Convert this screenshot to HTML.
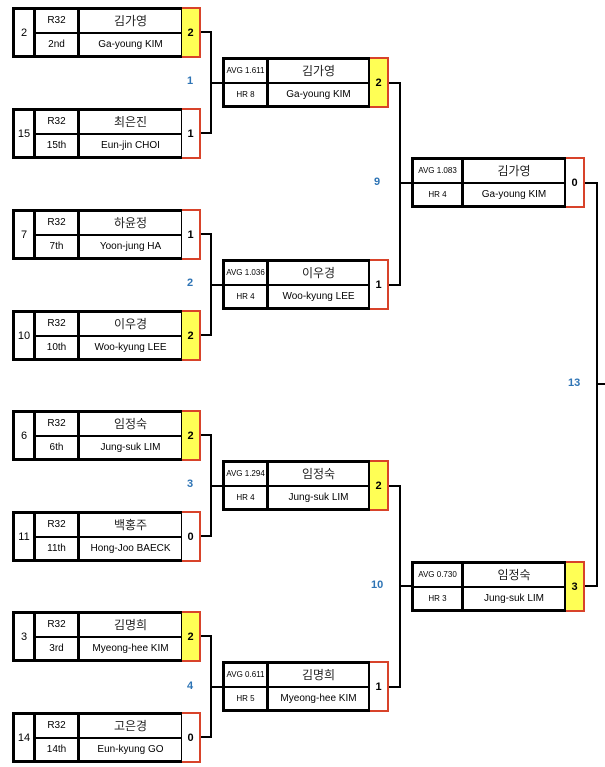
<!DOCTYPE html>
<html><head><meta charset="utf-8"><style>
body{margin:0;width:605px;height:767px;background:#fff;position:relative;overflow:hidden;font-family:"Liberation Sans","Noto Sans CJK KR",sans-serif;color:#000}
.b{position:absolute;height:51px;box-sizing:border-box;border:3px solid #000;background:#fff;display:flex}
.c{box-sizing:border-box;border-right:3px solid #000;display:flex;flex-direction:column;height:100%}
.c:last-child{border-right:none}
.r{flex:1;display:flex;align-items:center;justify-content:center;font-size:10px;white-space:nowrap}
.r+.r{border-top:2px solid #000}
.k{font-size:12px;color:#222}
.s8{font-size:8px}
.s{position:absolute;height:51px;box-sizing:border-box;border:2px solid #d8432a;border-left:none;display:flex;align-items:center;justify-content:center;font-weight:bold;font-size:11px;background:#fff}
.w{background:#ffff55}
.h{position:absolute;height:2px;background:#000}
.v{position:absolute;width:2px;background:#000}
.l{position:absolute;color:#2e74b5;font-weight:bold;font-size:11px}
</style></head><body>

<!-- Round 1 -->
<div class="b" style="left:12px;top:7px;width:172px"><div class="c" style="width:21px"><div class="r" style="font-size:11px">2</div></div><div class="c" style="width:44px"><div class="r">R32</div><div class="r">2nd</div></div><div class="c" style="flex:1"><div class="r k">김가영</div><div class="r">Ga-young KIM</div></div></div>
<div class="s w" style="left:182px;top:7px;width:19px">2</div>

<div class="b" style="left:12px;top:108px;width:172px"><div class="c" style="width:21px"><div class="r" style="font-size:11px">15</div></div><div class="c" style="width:44px"><div class="r">R32</div><div class="r">15th</div></div><div class="c" style="flex:1"><div class="r k">최은진</div><div class="r">Eun-jin CHOI</div></div></div>
<div class="s" style="left:182px;top:108px;width:19px">1</div>

<div class="b" style="left:12px;top:209px;width:172px"><div class="c" style="width:21px"><div class="r" style="font-size:11px">7</div></div><div class="c" style="width:44px"><div class="r">R32</div><div class="r">7th</div></div><div class="c" style="flex:1"><div class="r k">하윤정</div><div class="r">Yoon-jung HA</div></div></div>
<div class="s" style="left:182px;top:209px;width:19px">1</div>

<div class="b" style="left:12px;top:310px;width:172px"><div class="c" style="width:21px"><div class="r" style="font-size:11px">10</div></div><div class="c" style="width:44px"><div class="r">R32</div><div class="r">10th</div></div><div class="c" style="flex:1"><div class="r k">이우경</div><div class="r">Woo-kyung LEE</div></div></div>
<div class="s w" style="left:182px;top:310px;width:19px">2</div>

<div class="b" style="left:12px;top:410px;width:172px"><div class="c" style="width:21px"><div class="r" style="font-size:11px">6</div></div><div class="c" style="width:44px"><div class="r">R32</div><div class="r">6th</div></div><div class="c" style="flex:1"><div class="r k">임정숙</div><div class="r">Jung-suk LIM</div></div></div>
<div class="s w" style="left:182px;top:410px;width:19px">2</div>

<div class="b" style="left:12px;top:511px;width:172px"><div class="c" style="width:21px"><div class="r" style="font-size:11px">11</div></div><div class="c" style="width:44px"><div class="r">R32</div><div class="r">11th</div></div><div class="c" style="flex:1"><div class="r k">백홍주</div><div class="r">Hong-Joo BAECK</div></div></div>
<div class="s" style="left:182px;top:511px;width:19px">0</div>

<div class="b" style="left:12px;top:611px;width:172px"><div class="c" style="width:21px"><div class="r" style="font-size:11px">3</div></div><div class="c" style="width:44px"><div class="r">R32</div><div class="r">3rd</div></div><div class="c" style="flex:1"><div class="r k">김명희</div><div class="r">Myeong-hee KIM</div></div></div>
<div class="s w" style="left:182px;top:611px;width:19px">2</div>

<div class="b" style="left:12px;top:712px;width:172px"><div class="c" style="width:21px"><div class="r" style="font-size:11px">14</div></div><div class="c" style="width:44px"><div class="r">R32</div><div class="r">14th</div></div><div class="c" style="flex:1"><div class="r k">고은경</div><div class="r">Eun-kyung GO</div></div></div>
<div class="s" style="left:182px;top:712px;width:19px">0</div>

<!-- R1 connectors -->
<div class="h" style="left:201px;top:31px;width:11px"></div><div class="h" style="left:201px;top:132px;width:11px"></div><div class="v" style="left:210px;top:31px;height:103px"></div><div class="h" style="left:210px;top:82px;width:12px"></div>
<div class="h" style="left:201px;top:233px;width:11px"></div><div class="h" style="left:201px;top:334px;width:11px"></div><div class="v" style="left:210px;top:233px;height:103px"></div><div class="h" style="left:210px;top:284px;width:12px"></div>
<div class="h" style="left:201px;top:434px;width:11px"></div><div class="h" style="left:201px;top:535px;width:11px"></div><div class="v" style="left:210px;top:434px;height:103px"></div><div class="h" style="left:210px;top:485px;width:12px"></div>
<div class="h" style="left:201px;top:635px;width:11px"></div><div class="h" style="left:201px;top:736px;width:11px"></div><div class="v" style="left:210px;top:635px;height:103px"></div><div class="h" style="left:210px;top:686px;width:12px"></div>
<div class="l" style="left:187px;top:75px">1</div>
<div class="l" style="left:187px;top:277px">2</div>
<div class="l" style="left:187px;top:478px">3</div>
<div class="l" style="left:187px;top:680px">4</div>

<!-- Round 2 -->
<div class="b" style="left:222px;top:57px;width:149px"><div class="c" style="width:44px"><div class="r s8">AVG 1.611</div><div class="r s8">HR 8</div></div><div class="c" style="flex:1"><div class="r k">김가영</div><div class="r">Ga-young KIM</div></div></div>
<div class="s w" style="left:370px;top:57px;width:19px">2</div>
<div class="b" style="left:222px;top:259px;width:149px"><div class="c" style="width:44px"><div class="r s8">AVG 1.036</div><div class="r s8">HR 4</div></div><div class="c" style="flex:1"><div class="r k">이우경</div><div class="r">Woo-kyung LEE</div></div></div>
<div class="s" style="left:370px;top:259px;width:19px">1</div>
<div class="b" style="left:222px;top:460px;width:149px"><div class="c" style="width:44px"><div class="r s8">AVG 1.294</div><div class="r s8">HR 4</div></div><div class="c" style="flex:1"><div class="r k">임정숙</div><div class="r">Jung-suk LIM</div></div></div>
<div class="s w" style="left:370px;top:460px;width:19px">2</div>
<div class="b" style="left:222px;top:661px;width:149px"><div class="c" style="width:44px"><div class="r s8">AVG 0.611</div><div class="r s8">HR 5</div></div><div class="c" style="flex:1"><div class="r k">김명희</div><div class="r">Myeong-hee KIM</div></div></div>
<div class="s" style="left:370px;top:661px;width:19px">1</div>

<!-- R2 connectors -->
<div class="h" style="left:389px;top:82px;width:12px"></div><div class="h" style="left:389px;top:284px;width:12px"></div><div class="v" style="left:399px;top:82px;height:204px"></div><div class="h" style="left:399px;top:182px;width:12px"></div>
<div class="h" style="left:389px;top:485px;width:12px"></div><div class="h" style="left:389px;top:686px;width:12px"></div><div class="v" style="left:399px;top:485px;height:203px"></div><div class="h" style="left:399px;top:585px;width:12px"></div>
<div class="l" style="left:374px;top:176px">9</div>
<div class="l" style="left:371px;top:579px">10</div>

<!-- Round 3 -->
<div class="b" style="left:411px;top:157px;width:156px"><div class="c" style="width:50px"><div class="r s8">AVG 1.083</div><div class="r s8">HR 4</div></div><div class="c" style="flex:1"><div class="r k">김가영</div><div class="r">Ga-young KIM</div></div></div>
<div class="s" style="left:566px;top:157px;width:19px">0</div>
<div class="b" style="left:411px;top:561px;width:156px"><div class="c" style="width:50px"><div class="r s8">AVG 0.730</div><div class="r s8">HR 3</div></div><div class="c" style="flex:1"><div class="r k">임정숙</div><div class="r">Jung-suk LIM</div></div></div>
<div class="s w" style="left:566px;top:561px;width:19px">3</div>

<!-- Final connector -->
<div class="h" style="left:585px;top:182px;width:13px"></div><div class="h" style="left:585px;top:585px;width:13px"></div><div class="v" style="left:596px;top:182px;height:405px"></div><div class="h" style="left:596px;top:383px;width:9px"></div>
<div class="l" style="left:568px;top:377px">13</div>
</body></html>
